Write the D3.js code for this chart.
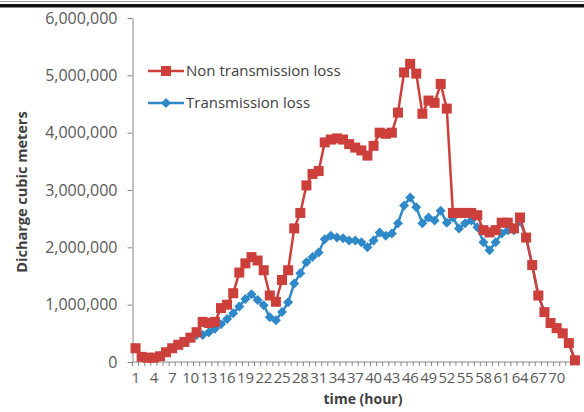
<!DOCTYPE html>
<html>
<head>
<meta charset="utf-8">
<script src="https://cdn.jsdelivr.net/npm/d3@7/dist/d3.min.js"></script>
<style>
  body { margin: 0; background: #fff; }
  svg { display: block; }
  text { font-family: "Open Sans", sans-serif; }
</style>
</head>
<body>
<div id="chart"></div>
<script>
const hours = [1, 2, 3, 4, 5, 6, 7, 8, 9, 10, 11, 12, 13, 14, 15, 16, 17, 18, 19, 20,
  21, 22, 23, 24, 25, 26, 27, 28, 29, 30, 31, 32, 33, 34, 35, 36, 37, 38, 39, 40,
  41, 42, 43, 44, 45, 46, 47, 48, 49, 50, 51, 52, 53, 54, 55, 56, 57, 58, 59, 60,
  61, 62, 63, 64, 65, 66, 67, 68, 69, 70, 71, 72, 73];

// discharge, cubic meters
const nonTransmissionLoss = [240000, 90000, 75000, 75000, 100000, 170000, 240000, 300000, 350000, 425000,
  520000, 700000, 680000, 700000, 940000, 1000000, 1200000, 1560000, 1720000, 1830000,
  1770000, 1600000, 1160000, 1050000, 1430000, 1600000, 2330000, 2600000, 3080000, 3280000,
  3330000, 3830000, 3880000, 3900000, 3880000, 3800000, 3740000, 3690000, 3600000, 3770000,
  4000000, 3980000, 4000000, 4350000, 5050000, 5200000, 5030000, 4330000, 4560000, 4520000,
  4850000, 4420000, 2600000, 2600000, 2600000, 2600000, 2560000, 2300000, 2260000, 2300000,
  2430000, 2430000, 2330000, 2520000, 2170000, 1690000, 1160000, 870000, 680000, 590000,
  500000, 330000, 30000];

const transmissionLoss = [240000, 90000, 75000, 75000, 100000, 170000, 240000, 300000, 350000, 420000,
  470000, 470000, 520000, 580000, 660000, 750000, 850000, 970000, 1100000, 1180000,
  1080000, 990000, 780000, 730000, 870000, 1040000, 1370000, 1550000, 1740000, 1830000,
  1910000, 2140000, 2200000, 2170000, 2160000, 2120000, 2120000, 2090000, 2000000, 2120000,
  2260000, 2200000, 2240000, 2420000, 2730000, 2870000, 2700000, 2420000, 2520000, 2470000,
  2640000, 2430000, 2520000, 2330000, 2420000, 2470000, 2350000, 2090000, 1950000, 2090000,
  2240000, 2300000, 2300000, 2450000, 2170000, 1690000, 1160000, 870000, 680000, 590000,
  500000, 330000, 30000];

const yTicks = [0, 1000000, 2000000, 3000000, 4000000, 5000000, 6000000];
const xTickLabels = [1, 4, 7, 10, 13, 16, 19, 22, 25, 28, 31, 34, 37, 40, 43, 46, 49, 52, 55, 58, 61, 64, 67, 70];
const seriesNames = ['Non transmission loss', 'Transmission loss'];

const w = 584;
const h = 412;
const margin = { top: 18, right: 6, bottom: 50, left: 132.5 };
const red = '#cd3f3b';
const blue = '#2f89c8';
const axisColor = '#868686';
const labelColor = '#595959';

const svg = d3.select('#chart')
  .append('svg')
  .attr('width', w)
  .attr('height', h);

// page border at the top
svg.append('line')
  .attr('x1', 0).attr('x2', w)
  .attr('y1', 1.5).attr('y2', 1.5)
  .attr('stroke', '#999').attr('stroke-width', 1);
svg.append('rect')
  .attr('x', 0).attr('y', 4)
  .attr('width', w).attr('height', 3.5)
  .attr('fill', '#111');

const xScale = d3.scaleBand()
  .domain(hours)
  .range([margin.left, w - margin.right]);
const half = xScale.bandwidth() / 2;

const yScale = d3.scaleLinear()
  .domain([0, 6000000])
  .range([h - margin.bottom, margin.top]);

// y axis
const yAxis = d3.axisLeft(yScale)
  .tickValues(yTicks)
  .tickSize(5)
  .tickSizeOuter(0)
  .tickPadding(10)
  .tickFormat(d3.format(','));

const gy = svg.append('g')
  .attr('id', 'y-axis')
  .attr('transform', 'translate(' + margin.left + ',0)')
  .call(yAxis);
gy.select('.domain').attr('stroke', axisColor);
gy.selectAll('.tick line').attr('stroke', axisColor);
gy.selectAll('.tick text')
  .attr('fill', labelColor)
  .style('font-size', '16px');

// x axis: labels every 3 hours, tick marks between categories
const xAxis = d3.axisBottom(xScale)
  .tickValues(xTickLabels)
  .tickSize(0)
  .tickPadding(10.5);

const gx = svg.append('g')
  .attr('id', 'x-axis')
  .attr('transform', 'translate(0,' + (h - margin.bottom) + ')')
  .call(xAxis);
gx.select('.domain').remove();
gx.selectAll('.tick text')
  .attr('fill', labelColor)
  .style('font-size', '15px')
  .style('letter-spacing', '-0.3px');

gx.append('line')
  .attr('x1', margin.left).attr('x2', w - margin.right)
  .attr('stroke', axisColor);

const edges = hours.map((d) => xScale(d)).concat([w - margin.right]);
gx.selectAll('.edge')
  .data(edges)
  .enter()
  .append('line')
  .attr('class', 'edge')
  .attr('x1', (d) => d).attr('x2', (d) => d)
  .attr('y1', 0).attr('y2', 4)
  .attr('stroke', axisColor);

// axis titles
svg.append('text')
  .attr('transform', 'translate(23,192) rotate(-90)')
  .attr('text-anchor', 'middle')
  .attr('dominant-baseline', 'middle')
  .style('font-size', '14.5px')
  .style('font-weight', 'bold')
  .attr('fill', '#404040')
  .text('Dicharge cubic meters');

svg.append('text')
  .attr('x', 363)
  .attr('y', 404)
  .attr('text-anchor', 'middle')
  .style('font-size', '14px')
  .style('font-weight', 'bold')
  .attr('fill', '#404040')
  .text('time (hour)');

// series
const line = d3.line()
  .x((d) => xScale(d.hour) + half)
  .y((d) => yScale(d.value));

const blueData = hours.map((d, i) => ({ hour: d, value: transmissionLoss[i] }));
const redData = hours.map((d, i) => ({ hour: d, value: nonTransmissionLoss[i] }));

const diamond = d3.symbol().type(d3.symbolSquare).size(50);

svg.append('path')
  .datum(blueData)
  .attr('fill', 'none')
  .attr('stroke', blue)
  .attr('stroke-width', 2.5)
  .attr('d', line);

svg.selectAll('.diamond')
  .data(blueData)
  .enter()
  .append('path')
  .attr('class', 'diamond')
  .attr('transform', (d) => 'translate(' + (xScale(d.hour) + half) + ',' + yScale(d.value) + ') rotate(45)')
  .attr('d', diamond)
  .attr('fill', blue);

svg.append('path')
  .datum(redData)
  .attr('fill', 'none')
  .attr('stroke', red)
  .attr('stroke-width', 2.5)
  .attr('d', line);

const sq = 10;
svg.selectAll('.square')
  .data(redData)
  .enter()
  .append('rect')
  .attr('class', 'square')
  .attr('x', (d) => xScale(d.hour) + half - sq / 2)
  .attr('y', (d) => yScale(d.value) - sq / 2)
  .attr('width', sq)
  .attr('height', sq)
  .attr('fill', red);

// legend
const legend = svg.append('g').attr('id', 'legend');
const legendRows = [
  { name: seriesNames[0], color: red, y: 71, marker: 'square' },
  { name: seriesNames[1], color: blue, y: 103, marker: 'diamond' }
];

legendRows.forEach((r) => {
  legend.append('line')
    .attr('x1', 148).attr('x2', 184)
    .attr('y1', r.y).attr('y2', r.y)
    .attr('stroke', r.color)
    .attr('stroke-width', 2.5);
  if (r.marker === 'square') {
    legend.append('rect')
      .attr('x', 166 - sq / 2).attr('y', r.y - sq / 2)
      .attr('width', sq).attr('height', sq)
      .attr('fill', r.color);
  } else {
    legend.append('path')
      .attr('transform', 'translate(166,' + r.y + ') rotate(45)')
      .attr('d', diamond)
      .attr('fill', r.color);
  }
  legend.append('text')
    .attr('x', 186)
    .attr('y', r.y)
    .attr('dy', '0.35em')
    .style('font-size', '15px')
    .attr('fill', '#404040')
    .text(r.name);
});
</script>
</body>
</html>
